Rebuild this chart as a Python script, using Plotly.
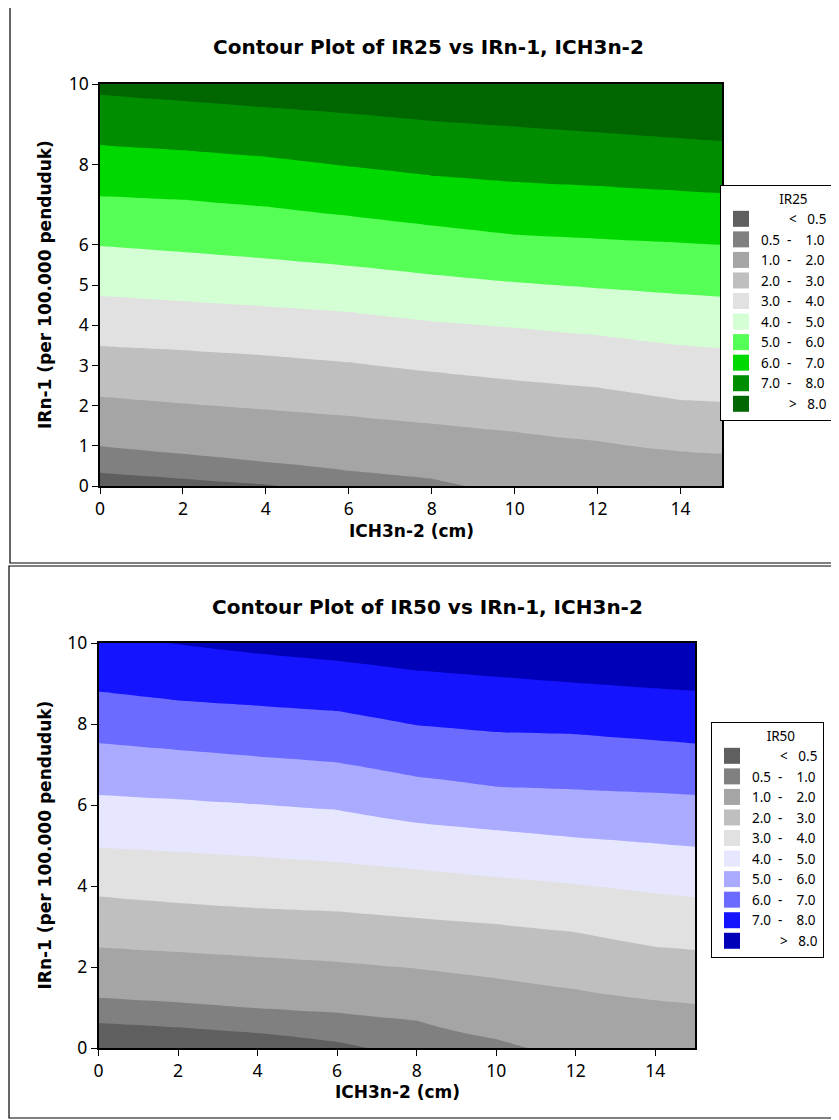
import numpy as np
import plotly.graph_objects as go

# ---------------- data ----------------
# x positions (ICH3n-2, cm) where contour-line heights were read
x_pts = [0, 2, 4, 6, 8, 10, 12, 14, 15]
levels = [0.5, 1.0, 2.0, 3.0, 4.0, 5.0, 6.0, 7.0, 8.0]

# IR25: height (IRn-1) of each contour level line at x_pts
ir25_l05 = [0.33, 0.18, 0.04, -0.25, -0.50, -0.75, -1.00, -1.25, -1.35]
ir25_l1 = [0.99, 0.80, 0.60, 0.38, 0.18, -0.33, -0.55, -0.75, -0.85]
ir25_l2 = [2.22, 2.05, 1.90, 1.74, 1.55, 1.35, 1.12, 0.86, 0.80]
ir25_l3 = [3.48, 3.38, 3.25, 3.08, 2.84, 2.63, 2.45, 2.14, 2.09]
ir25_l4 = [4.73, 4.60, 4.47, 4.33, 4.10, 3.94, 3.75, 3.50, 3.43]
ir25_l5 = [5.97, 5.82, 5.66, 5.48, 5.26, 5.07, 4.92, 4.77, 4.71]
ir25_l6 = [7.21, 7.12, 6.95, 6.72, 6.48, 6.25, 6.15, 6.05, 6.00]
ir25_l7 = [8.48, 8.35, 8.19, 7.95, 7.72, 7.56, 7.46, 7.34, 7.28]
ir25_l8 = [9.73, 9.58, 9.42, 9.27, 9.08, 8.94, 8.80, 8.65, 8.58]

# IR50
ir50_l05 = [0.62, 0.51, 0.37, 0.15, -0.35, -0.75, -1.10, -1.45, -1.60]
ir50_l1 = [1.24, 1.13, 0.98, 0.87, 0.68, 0.22, -0.30, -0.60, -0.75]
ir50_l2 = [2.48, 2.37, 2.25, 2.13, 1.96, 1.72, 1.45, 1.18, 1.09]
ir50_l3 = [3.74, 3.58, 3.45, 3.37, 3.21, 3.06, 2.86, 2.50, 2.42]
ir50_l4 = [4.95, 4.84, 4.72, 4.59, 4.41, 4.22, 4.05, 3.82, 3.72]
ir50_l5 = [6.25, 6.14, 6.02, 5.88, 5.56, 5.38, 5.20, 5.05, 4.97]
ir50_l6 = [7.53, 7.36, 7.20, 7.05, 6.70, 6.45, 6.38, 6.30, 6.25]
ir50_l7 = [8.80, 8.58, 8.45, 8.32, 7.97, 7.80, 7.75, 7.60, 7.52]
ir50_l8 = [10.25, 9.97, 9.74, 9.56, 9.32, 9.17, 9.02, 8.88, 8.82]

NB = "\u00a0"
legend_labels = [NB * 8 + "<" + NB * 3 + "0.5"] + \
    ["%s%s-%s%s" % (a, NB * 2, NB * 4, b) for a, b in
     [("0.5", "1.0"), ("1.0", "2.0"), ("2.0", "3.0"), ("3.0", "4.0"),
      ("4.0", "5.0"), ("5.0", "6.0"), ("6.0", "7.0"), ("7.0", "8.0")]] + \
    [NB * 8 + ">" + NB * 3 + "8.0"]

grey_cols = ["#5f5f5f", "#808080", "#a5a5a5", "#bfbfbf", "#e1e1e1"]
green_cols = ["#d4ffd4", "#55ff55", "#00d900", "#008e00", "#006600"]
blue_cols = ["#e6e6ff", "#aaaaff", "#6b6bff", "#1414ff", "#0000b8"]

x_ticks = [0, 2, 4, 6, 8, 10, 12, 14]
y_ticks_25 = [0, 1, 2, 3, 4, 5, 6, 8, 10]
y_ticks_50 = [0, 2, 4, 6, 8, 10]

# page body has an 8px margin: the figure is placed so that it fills the window
OFF = 8
W, H = 839 - OFF, 1120 - OFF
FONT = "DejaVu Sans"
TICKFONT = "Noto Sans"
LEGFONT = "Noto Sans"


def build_field(lines):
    """Grid table for plotly contour, from the read contour-line heights."""
    y_grid = np.linspace(0, 10, 301)
    arr = np.array(lines)  # (n_levels, n_x)
    z = np.zeros((len(y_grid), arr.shape[1]))
    for j in range(arr.shape[1]):
        ys = arr[:, j]
        y_lo = 2 * ys[0] - ys[1]
        y_hi = 2 * ys[-1] - ys[-2]
        yy = np.concatenate([[y_lo], ys, [y_hi]])
        zz = np.concatenate([[0.0], levels, [9.0]])
        z[:, j] = np.interp(y_grid, yy, zz)
    return y_grid, z


def band_colorscale(cols):
    # 17 bands for contour levels 0.5..8 step 0.5
    band_col = ([grey_cols[0], grey_cols[1]] + [grey_cols[2]] * 2 + [grey_cols[3]] * 2
                + [grey_cols[4]] * 2 + [cols[0]] * 2 + [cols[1]] * 2 + [cols[2]] * 2
                + [cols[3]] * 2 + [cols[4]])
    return [[i / 16, c] for i, c in enumerate(band_col)]


def px_x(p):
    return (p - OFF) / W


def px_y(p):
    return 1 - (p - OFF) / H


fig = go.Figure()

panels = [
    dict(lines=[ir25_l05, ir25_l1, ir25_l2, ir25_l3, ir25_l4, ir25_l5, ir25_l6, ir25_l7, ir25_l8],
         cols=green_cols, name="IR25", xa="x", ya="y", leg="legend"),
    dict(lines=[ir50_l05, ir50_l1, ir50_l2, ir50_l3, ir50_l4, ir50_l5, ir50_l6, ir50_l7, ir50_l8],
         cols=blue_cols, name="IR50", xa="x2", ya="y2", leg="legend2"),
]

for p in panels:
    yg, z = build_field(p["lines"])
    fig.add_trace(go.Contour(
        x=x_pts, y=yg, z=z, xaxis=p["xa"], yaxis=p["ya"],
        autocontour=False,
        contours=dict(start=0.5, end=8.0, size=0.5, coloring="fill", showlines=False),
        colorscale=band_colorscale(p["cols"]), showscale=False,
        line=dict(width=0, smoothing=1.0), hoverinfo="skip", showlegend=False))
    all_cols = grey_cols + p["cols"]
    for lab, c in zip(legend_labels, all_cols):
        fig.add_trace(go.Scatter(
            x=[None], y=[None], mode="markers", xaxis=p["xa"], yaxis=p["ya"],
            marker=dict(symbol="square", size=16, color=c), name=lab,
            legend=p["leg"], showlegend=True))

axis_common = dict(showgrid=False, zeroline=False, showline=True, mirror=True,
                   automargin=False,
                   linecolor="black", linewidth=1.5, ticks="outside", ticklen=6,
                   tickwidth=1, tickcolor="black",
                   tickfont=dict(family=TICKFONT, size=17.5, color="black"))

leg_common = dict(xanchor="left", yanchor="top",
                  bordercolor="black", borderwidth=1, bgcolor="white",
                  font=dict(family=LEGFONT, size=13.5, color="black"),
                  itemclick=False, tracegroupgap=0)

fig.update_layout(
    template="none",
    width=W, height=H, margin=dict(l=0, r=0, t=0, b=0, pad=0, autoexpand=False),
    paper_bgcolor="white", plot_bgcolor="white",
    xaxis=dict(domain=[px_x(100), px_x(722)], range=[0, 15], tickvals=x_ticks,
               anchor="y", **axis_common),
    yaxis=dict(domain=[px_y(486), px_y(84)], range=[0, 10], tickvals=y_ticks_25,
               anchor="x", **axis_common),
    xaxis2=dict(domain=[px_x(98.5), px_x(695)], range=[0, 15], tickvals=x_ticks,
                anchor="y2", **axis_common),
    yaxis2=dict(domain=[px_y(1048), px_y(643)], range=[0, 10], tickvals=y_ticks_50,
                anchor="x2", **axis_common),
    legend=dict(x=px_x(720), y=px_y(185),
                title=dict(text=NB * 16 + "IR25", side="top",
                           font=dict(family=LEGFONT, size=13.5, color="black")),
                **leg_common),
    legend2=dict(x=px_x(711), y=px_y(722),
                 title=dict(text=NB * 15 + "IR50", side="top",
                            font=dict(family=LEGFONT, size=13.5, color="black")),
                 **leg_common),
    shapes=[
        dict(type="rect", xref="paper", yref="paper", x0=px_x(10), x1=px_x(845),
             y0=px_y(563), y1=px_y(7), line=dict(color="black", width=1.2), layer="below"),
        dict(type="rect", xref="paper", yref="paper", x0=px_x(9), x1=px_x(845),
             y0=px_y(1118), y1=px_y(566), line=dict(color="black", width=1.2), layer="below"),
    ],
)

ann = []
titles = [("Contour Plot of IR25 vs IRn-1, ICH3n-2", 428, 47),
          ("Contour Plot of IR50 vs IRn-1, ICH3n-2", 427, 607)]
for t, cx, cy in titles:
    ann.append(dict(text="<b>%s</b>" % t, x=px_x(cx), y=px_y(cy), xref="paper", yref="paper",
                    showarrow=False, xanchor="center", yanchor="middle",
                    font=dict(family=FONT, size=20, color="black")))
for cx, cy in [(411, 531), (397, 1092)]:
    ann.append(dict(text="<b>ICH3n-2 (cm)</b>", x=px_x(cx), y=px_y(cy), xref="paper",
                    yref="paper", showarrow=False, xanchor="center", yanchor="middle",
                    font=dict(family=FONT, size=17, color="black")))
for cx, cy in [(45, 285), (44.5, 845)]:
    ann.append(dict(text="<b>IRn-1 (per 100.000 penduduk)</b>", x=px_x(cx), y=px_y(cy),
                    xref="paper", yref="paper", showarrow=False, textangle=-90,
                    xanchor="center", yanchor="middle",
                    font=dict(family=FONT, size=17, color="black")))
fig.update_layout(annotations=ann)

fig.write_html("out.html")
